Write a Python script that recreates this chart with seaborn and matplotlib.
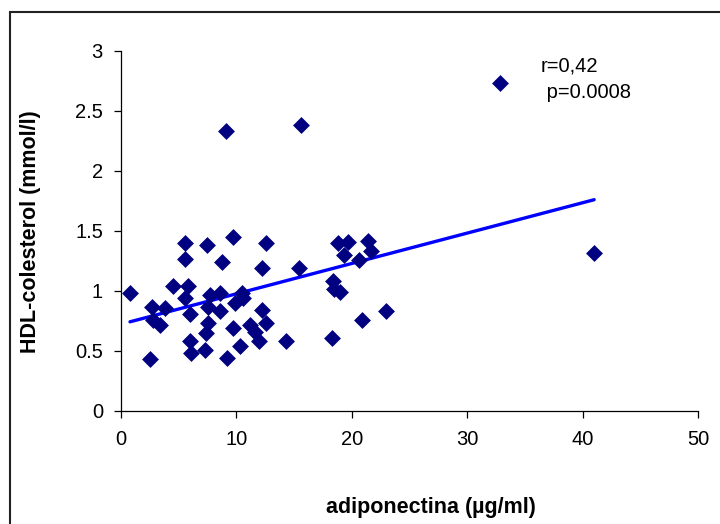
import matplotlib
matplotlib.use("Agg")
import matplotlib.pyplot as plt
import seaborn as sns
import pandas as pd
from matplotlib.patches import Rectangle
from matplotlib.ticker import FuncFormatter

adiponectina = [0.78, 2.5, 2.66, 3.8, 2.8, 3.4, 4.5, 5.55, 5.55, 5.8, 5.55, 6.0, 6.0, 6.1,
                7.42, 7.3, 7.4, 7.56, 7.56, 7.7, 8.6, 8.6, 8.72, 9.15, 9.72, 9.73, 9.9,
                10.45, 10.6, 10.3, 11.2, 11.6, 12.0, 12.2, 12.2, 12.6, 12.6, 14.3, 15.4,
                18.3, 18.4, 18.5, 19.0, 18.8, 19.7, 19.3, 20.6, 21.4, 21.7, 20.9, 23.0,
                9.13, 15.64, 32.8, 41.0]
hdl = [0.98, 0.43, 0.87, 0.86, 0.76, 0.72, 1.04, 1.40, 1.27, 1.04, 0.94, 0.81, 0.58, 0.48,
       1.38, 0.51, 0.65, 0.73, 0.87, 0.97, 0.98, 0.83, 1.24, 0.44, 1.45, 0.69, 0.90,
       0.98, 0.94, 0.54, 0.72, 0.66, 0.58, 0.84, 1.19, 1.40, 0.73, 0.58, 1.19,
       0.61, 1.08, 1.02, 0.99, 1.40, 1.41, 1.30, 1.26, 1.42, 1.33, 0.76, 0.83,
       2.33, 2.38, 2.73, 1.32]

x_ticks = [0, 10, 20, 30, 40, 50]
y_ticks = [0, 0.5, 1, 1.5, 2, 2.5, 3]
x_label = "adiponectina (µg/ml)"
y_label = "HDL-colesterol (mmol/l)"
annot = "r=0,42\n p=0.0008"

df = pd.DataFrame({"x": adiponectina, "y": hdl})

sns.set_theme(style="white")
plt.rcParams['font.family'] = ['Liberation Sans', 'DejaVu Sans']

W, H = 720, 524
fig = plt.figure(figsize=(W / 100, H / 100), dpi=100)
ax = fig.add_axes([121 / W, 1 - 411 / H, (698 - 121) / W, (411 - 51) / H])

sns.regplot(data=df, x="x", y="y", ax=ax, ci=None, marker="D",
            scatter_kws=dict(s=74, color="#000080", alpha=1, linewidths=0, zorder=3),
            line_kws=dict(color="#0000FF", linewidth=2.4, zorder=2))

ax.set_xlim(0, 50)
ax.set_ylim(0, 3)
ax.set_xticks(x_ticks)
ax.set_yticks(y_ticks)
ax.yaxis.set_major_formatter(FuncFormatter(lambda v, p: f"{v:g}"))
for s in ["top", "right"]:
    ax.spines[s].set_visible(False)
for s in ["left", "bottom"]:
    ax.spines[s].set_color("black")
    ax.spines[s].set_linewidth(0.9)
ax.tick_params(axis="both", which="major", direction="out", length=5, width=0.9,
               color="black", labelsize=14.5, labelcolor="black", left=True, bottom=True)
ax.tick_params(axis="x", pad=9)
ax.tick_params(axis="y", pad=8)
ax.set_xlabel("")
ax.set_ylabel("")

fig.text(431 / W, 1 - 508 / H, x_label, ha="center", va="center",
         fontsize=15.5, fontweight="bold", color="black")
fig.text(31 / W, 1 - 232 / H, y_label, ha="center", va="center", rotation=90,
         fontsize=15.5, fontweight="bold", color="black")
fig.text(541 / W, 1 - 57 / H, annot, ha="left", va="top", fontsize=14.5,
         color="black", linespacing=1.45)

fig.patches.append(Rectangle((10 / W, -0.1), 1.2, 1 - 12 / H + 0.1,
                             transform=fig.transFigure, fill=False,
                             edgecolor="#222222", linewidth=1.5))

fig.savefig("out.png", dpi=100)
